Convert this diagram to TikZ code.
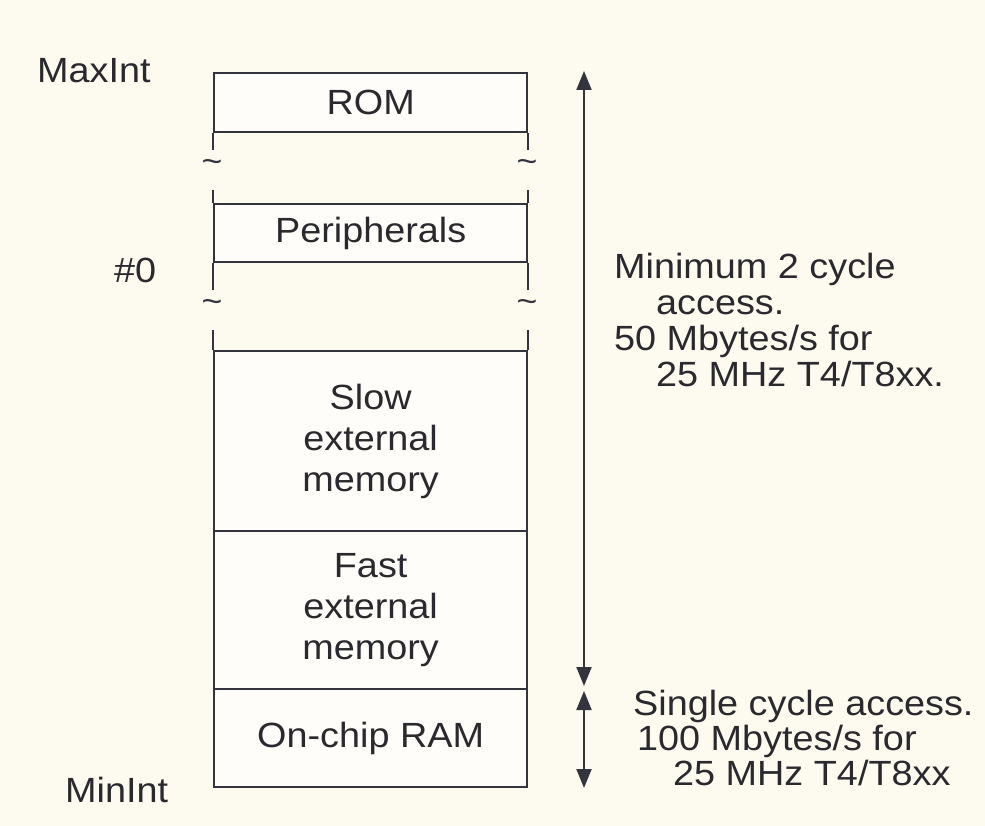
\documentclass[tikz,border=0pt]{standalone}
\usepackage{fontspec}
\setmainfont[FakeStretch=1.08]{Liberation Sans}
\usetikzlibrary{arrows.meta}
\definecolor{bgc}{HTML}{FDFBF0}
\definecolor{ink}{HTML}{34343F}
\definecolor{txt}{HTML}{2A2A2E}
\tikzset{
  memline/.style={draw=ink, line width=2.3pt},
  membox/.style={memline, rectangle, fill=white!60!bgc, minimum width=313pt, inner sep=0pt, anchor=north west,
     align=center, text=txt, font=\fontsize{35}{41}\selectfont},
  lbl/.style={inner sep=0pt, text=txt, font=\fontsize{35}{36}\selectfont, anchor=base west},
  tld/.style={inner sep=0pt, text=ink, font=\fontsize{33}{33}\selectfont},
  acc/.style={draw=ink, line width=2pt, {Triangle[length=19pt,width=15pt]}-{Triangle[length=19pt,width=15pt]}}
}
\begin{document}
\begin{tikzpicture}[x=1pt,y=-1pt]
\fill[bgc] (0,0) rectangle (985,826);
\useasboundingbox (0,0) rectangle (985,826);

% memory boxes
\node[membox, minimum height=59pt] (rom) at (213,72) {ROM};
\node[membox, minimum height=58pt] (peri) at (213,203) {Peripherals};
\node[membox, minimum height=180pt] (slow) at (213,350) {Slow\\external\\memory};
\node[membox, minimum height=158pt] (fast) at (213,530) {Fast\\external\\memory};
\node[membox, minimum height=98pt] (ram) at (213,688) {On-chip RAM};

% broken side lines
\draw[memline] (rom.south west) -- ++(0,17) coordinate (r1);
\draw[memline] (rom.south east) -- ++(0,17) coordinate (r2);
\draw[memline] (peri.north west) -- ++(0,-13) coordinate (p1);
\draw[memline] (peri.north east) -- ++(0,-13) coordinate (p2);
\draw[memline] (peri.south west) -- ++(0,27) coordinate (p3);
\draw[memline] (peri.south east) -- ++(0,27) coordinate (p4);
\draw[memline] (slow.north west) -- ++(0,-20) coordinate (s1);
\draw[memline] (slow.north east) -- ++(0,-20) coordinate (s2);

% break marks
\node[tld] (t1) at (212,166) {\textasciitilde};
\node[tld] (t2) at (527,166) {\textasciitilde};
\node[tld] (t3) at (212,306) {\textasciitilde};
\node[tld] (t4) at (527,306) {\textasciitilde};

% address labels
\node[lbl] (maxint) at (37,83) {MaxInt};
\node[lbl] (zero) at (114,283) {\#0};
\node[lbl] (minint) at (65,802) {MinInt};

% access arrows
\coordinate (a1) at (584,71);
\coordinate (a2) at (584,686);
\coordinate (a3) at (584,691);
\coordinate (a4) at (584,788);
\draw[acc] (a1) -- (a2);
\draw[acc] (a3) -- (a4);

% slow access text
\node[lbl] (m1) at (614,279) {Minimum 2 cycle};
\node[lbl] (m2) at (656,314) {access.};
\node[lbl] (m3) at (614,350) {50 Mbytes/s for};
\node[lbl] (m4) at (656,386) {25 MHz T4/T8xx.};

% fast access text
\node[lbl] (f1) at (633,715) {Single cycle access.};
\node[lbl] (f2) at (637,750) {100 Mbytes/s for};
\node[lbl] (f3) at (673,785) {25 MHz T4/T8xx};
\end{tikzpicture}
\end{document}
